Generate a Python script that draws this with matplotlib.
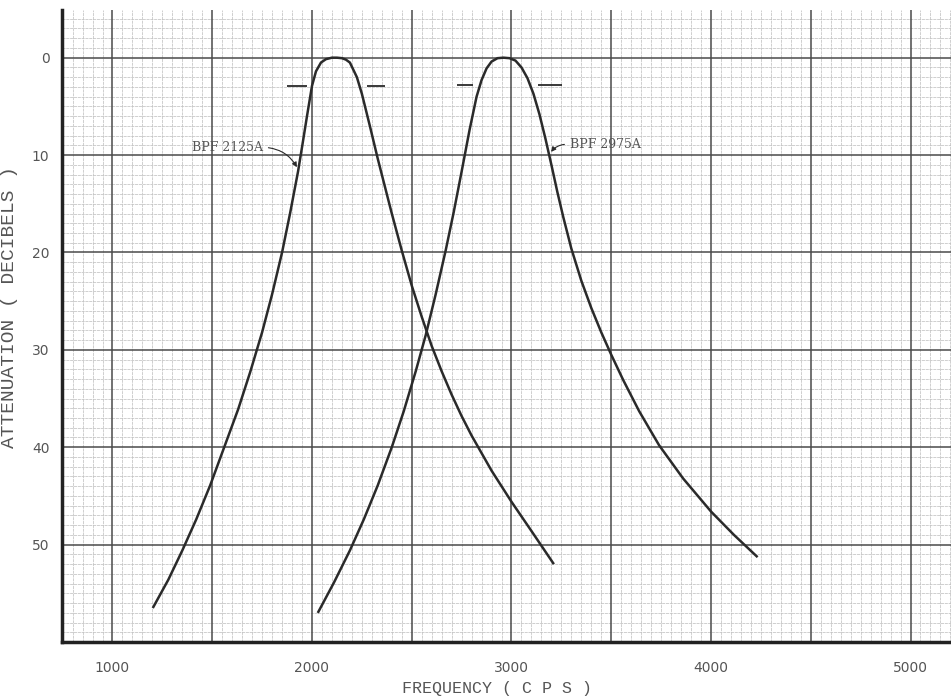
import matplotlib.pyplot as plt
import numpy as np

# BPF 2125A response (frequency in cps, attenuation in dB)
f_2125 = [1205, 1280, 1350, 1420, 1490, 1560, 1630, 1690, 1750, 1800, 1850, 1890,
          1930, 1950, 1975, 2000, 2020, 2045, 2070, 2100, 2125, 2150, 2170, 2190,
          2225, 2250, 2290, 2330, 2370, 2400, 2450, 2500, 2550, 2600, 2650, 2700,
          2750, 2800, 2850, 2900, 3000, 3100, 3209]
db_2125 = [56.4, 53.6, 50.6, 47.4, 43.9, 40.0, 36.1, 32.3, 28.2, 24.3, 20.0, 16.0,
           11.7, 9.2, 6.0, 2.9, 1.4, 0.5, 0.15, 0.0, 0.0, 0.05, 0.2, 0.5,
           2.0, 3.7, 7.0, 10.4, 13.6, 16.0, 19.8, 23.4, 26.6, 29.6, 32.2, 34.6,
           36.8, 38.8, 40.6, 42.4, 45.6, 48.6, 51.9]

# BPF 2975A response
f_2975 = [2032, 2110, 2190, 2260, 2330, 2400, 2460, 2520, 2570, 2620, 2670, 2710,
          2750, 2790, 2825, 2850, 2875, 2900, 2930, 2960, 2990, 3020, 3050, 3080,
          3110, 3140, 3170, 3200, 3230, 3260, 3300, 3350, 3400, 3450, 3500, 3560,
          3640, 3740, 3860, 4000, 4115, 4229]
db_2975 = [56.9, 53.9, 50.6, 47.4, 43.9, 40.0, 36.3, 32.2, 28.5, 24.3, 19.8, 15.9,
           11.7, 7.4, 4.0, 2.3, 1.1, 0.4, 0.05, 0.0, 0.05, 0.3, 1.0, 2.1,
           3.7, 5.8, 8.3, 11.0, 13.8, 16.4, 19.6, 22.9, 25.7, 28.2, 30.5, 33.1,
           36.3, 39.8, 43.2, 46.6, 49.0, 51.2]

# 3 dB bandwidth marks: (level, start, end)
marks = [(2.9, 1876, 1973), (2.9, 2274, 2366), (2.8, 2725, 2808), (2.8, 3134, 3252)]

x_ticks = [1000, 2000, 3000, 4000, 5000]
y_ticks = [0, 10, 20, 30, 40, 50]

ink = '#2a2a2a'
txt = '#555555'

fig = plt.figure(figsize=(9.51, 6.97), dpi=100)
ax = fig.add_axes([0.0652, 0.0789, 0.9348, 0.9068])

ax.set_xlim(747, 5203)
ax.set_ylim(60, -4.9)

# graph paper grid: light minor lines first, heavy lines on top
minor = dict(color='#c2c2c2', lw=0.55, ls=(0, (4, 1)), zorder=0)
major = dict(color='#4a4a4a', lw=1.1, ls='-', zorder=1)
for f in np.arange(750, 5201, 50):
    if f % 500:
        ax.axvline(f, **minor)
for d in np.arange(-4, 60, 1):
    if d % 10:
        ax.axhline(d, **minor)
for f in np.arange(1000, 5201, 500):
    ax.axvline(f, **major)
for d in np.arange(0, 60, 10):
    ax.axhline(d, **major)

ax.plot(f_2125, db_2125, color=ink, lw=1.8, zorder=3)
ax.plot(f_2975, db_2975, color=ink, lw=1.8, zorder=3)

for lvl, a, b in marks:
    ax.hlines(lvl, a, b, color=ink, lw=1.3, zorder=3)

ax.annotate('BPF 2125A', xy=(1931, 11.5), xytext=(1398, 9.2),
            ha='left', va='center', fontsize=9, family='DejaVu Serif', color=txt,
            arrowprops=dict(arrowstyle='-|>', color=ink, lw=0.8,
                            mutation_scale=7, relpos=(1, 0.5),
                            connectionstyle='arc3,rad=-0.3'))
ax.annotate('BPF 2975A', xy=(3190, 9.9), xytext=(3293, 8.9),
            ha='left', va='center', fontsize=9, family='DejaVu Serif', color=txt,
            arrowprops=dict(arrowstyle='-|>', color=ink, lw=0.8,
                            mutation_scale=7, relpos=(0, 0.5),
                            connectionstyle='arc3,rad=0.3'))

ax.set_xticks(x_ticks)
ax.set_yticks(y_ticks)
ax.tick_params(length=0, labelsize=10, labelcolor=txt)
ax.tick_params(axis='x', pad=14)
ax.tick_params(axis='y', pad=9)

for s in ['top', 'right']:
    ax.spines[s].set_visible(False)
for s in ['left', 'bottom']:
    ax.spines[s].set_linewidth(2.5)
    ax.spines[s].set_color('#222222')

ax.set_xlabel('FREQUENCY ( C P S )', fontsize=12, color=txt,
              family='Liberation Mono')
ax.set_ylabel('ATTENUATION ( DECIBELS )', fontsize=14, color=txt,
              family='Liberation Mono')
ax.xaxis.set_label_coords(0.489, -0.062)
ax.yaxis.set_label_coords(-0.049, 0.53)

fig.savefig('out.png', dpi=100)
